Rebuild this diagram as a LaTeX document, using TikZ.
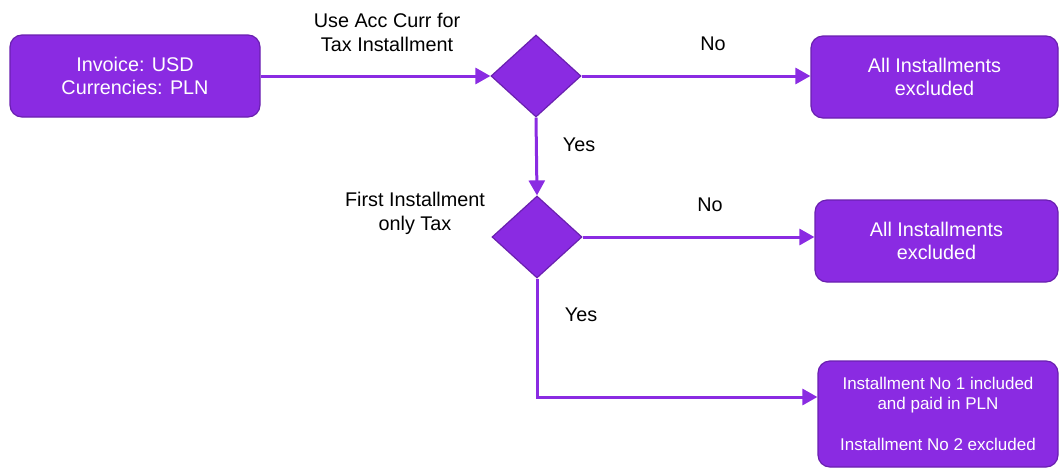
\documentclass[tikz,border=0pt]{standalone}
\usepackage{fontspec}
\setmainfont{Liberation Sans}
\usetikzlibrary{arrows.meta,shapes.geometric}
\definecolor{vio}{HTML}{8A2BE2}
\definecolor{viodark}{HTML}{6A20B0}
\tikzset{
  box/.style={draw=viodark, line width=1.2pt, fill=vio, rounded corners=12pt, text=white, align=center, font=\fontsize{19.8}{23}\selectfont, inner sep=0pt},
  dia/.style={diamond, draw=viodark, line width=1.2pt, fill=vio, inner sep=0pt},
  arr/.style={draw=vio, line width=3pt, -{Triangle[length=15pt,width=16pt]}},
  lbl/.style={align=center, font=\fontsize{19.8}{24}\selectfont, text=black},
}
\begin{document}
\begin{tikzpicture}[x=1pt,y=-1pt]
\useasboundingbox (0,0) rectangle (1060,469);
\node[box, minimum width=250pt, minimum height=82pt] (a) at (135,76) {Invoice: USD\\Currencies: PLN};
\node[dia, minimum width=90pt, minimum height=82pt] (d1) at (536,76) {};
\node[box, minimum width=247pt, minimum height=82pt] (b) at (934.5,77) {All Installments\\excluded};
\node[dia, minimum width=90pt, minimum height=82pt] (d2) at (537,237) {};
\node[box, minimum width=243pt, minimum height=82pt] (c) at (936.5,241) {All Installments\\excluded};
\node[box, minimum width=240pt, minimum height=106pt, font=\fontsize{17}{20.5}\selectfont] (d) at (938,414) {Installment No 1 included\\and paid in PLN\\[20.5pt]Installment No 2 excluded};

\node[lbl] (l1) at (387,32) {Use Acc Curr for\\Tax Installment};
\node[lbl] (l2) at (415,213) {First Installment\\only Tax};
\node[lbl] (n1) at (713,44) {No};
\node[lbl] (n2) at (710,205) {No};
\node[lbl] (y1) at (579,145) {Yes};
\node[lbl] (y2) at (581,315) {Yes};

\draw[arr] (a.east) -- (d1.west);
\draw[arr] (d1.east) -- (d1.east -| b.west);
\draw[arr] (d1.south) -- (d2.north);
\draw[arr] (d2.east) -- (d2.east -| c.west);
\draw[arr] (d2.south) |- ([yshift=17pt]d.west);
\end{tikzpicture}
\end{document}
